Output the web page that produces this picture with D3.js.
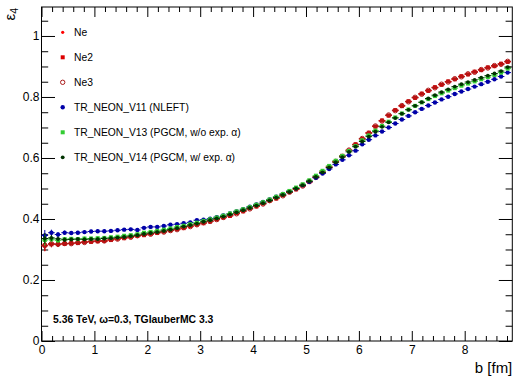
<!DOCTYPE html>
<html>
<head>
<meta charset="utf-8">
<script src="https://d3js.org/d3.v7.min.js"></script>
<style>
  body { margin: 0; background: #fff; }
  svg { display: block; font-family: "Liberation Sans", Arial, sans-serif; }
</style>
</head>
<body>
<div id="chart"></div>
<script>
// profile bins in b [fm]: 0.125 wide, starting at 0
const binLow   = 0;
const binWidth = 0.125;
const nBins    = 71;

// eps_4 per bin
const ne = [
  0.312, 0.318, 0.316, 0.319, 0.320, 0.322, 0.324, 0.326, 0.328, 0.327,
  0.332, 0.335, 0.338, 0.341, 0.344, 0.348, 0.351, 0.355, 0.358, 0.362,
  0.366, 0.371, 0.376, 0.381, 0.387, 0.393, 0.398, 0.404, 0.411, 0.418,
  0.426, 0.434, 0.442, 0.450, 0.459, 0.468, 0.477, 0.487, 0.498, 0.509,
  0.522, 0.537, 0.553, 0.570, 0.588, 0.606, 0.625, 0.644, 0.663, 0.682,
  0.704, 0.722, 0.740, 0.756, 0.771, 0.785, 0.798, 0.810, 0.821, 0.831,
  0.841, 0.850, 0.859, 0.867, 0.875, 0.882, 0.889, 0.896, 0.902, 0.908,
  0.916
];
const ne2 = [
  0.314, 0.317, 0.318, 0.318, 0.321, 0.321, 0.325, 0.325, 0.327, 0.329,
  0.331, 0.336, 0.337, 0.342, 0.345, 0.347, 0.352, 0.354, 0.359, 0.363,
  0.367, 0.370, 0.377, 0.382, 0.386, 0.392, 0.399, 0.405, 0.410, 0.419,
  0.425, 0.435, 0.441, 0.451, 0.460, 0.467, 0.478, 0.488, 0.497, 0.510,
  0.521, 0.538, 0.552, 0.571, 0.587, 0.607, 0.624, 0.645, 0.662, 0.683,
  0.703, 0.723, 0.739, 0.757, 0.770, 0.786, 0.797, 0.811, 0.820, 0.832,
  0.840, 0.851, 0.858, 0.868, 0.874, 0.883, 0.888, 0.897, 0.901, 0.909,
  0.915
];
const ne3 = [
  0.313, 0.319, 0.317, 0.320, 0.319, 0.323, 0.323, 0.327, 0.328, 0.328,
  0.333, 0.334, 0.339, 0.340, 0.345, 0.349, 0.350, 0.356, 0.357, 0.362,
  0.365, 0.372, 0.375, 0.381, 0.388, 0.392, 0.398, 0.405, 0.412, 0.417,
  0.427, 0.433, 0.443, 0.449, 0.460, 0.469, 0.476, 0.488, 0.499, 0.508,
  0.523, 0.536, 0.554, 0.569, 0.589, 0.605, 0.626, 0.643, 0.664, 0.681,
  0.705, 0.721, 0.741, 0.755, 0.772, 0.784, 0.799, 0.809, 0.822, 0.830,
  0.842, 0.849, 0.860, 0.866, 0.876, 0.881, 0.890, 0.895, 0.903, 0.907,
  0.917
];
const v11 = [
  0.346, 0.355, 0.349, 0.355, 0.354, 0.355, 0.357, 0.359, 0.360, 0.360,
  0.361, 0.363, 0.365, 0.366, 0.364, 0.371, 0.374, 0.374, 0.377, 0.381,
  0.383, 0.386, 0.389, 0.396, 0.398, 0.401, 0.406, 0.412, 0.418, 0.425,
  0.432, 0.440, 0.448, 0.456, 0.464, 0.473, 0.482, 0.491, 0.501, 0.511,
  0.522, 0.535, 0.549, 0.564, 0.579, 0.594, 0.609, 0.624, 0.645, 0.660,
  0.674, 0.687, 0.700, 0.713, 0.726, 0.738, 0.750, 0.761, 0.772, 0.782,
  0.792, 0.801, 0.810, 0.818, 0.826, 0.834, 0.842, 0.850, 0.858, 0.867,
  0.880
];
const v13 = [
  0.331, 0.334, 0.330, 0.334, 0.335, 0.334, 0.336, 0.336, 0.337, 0.338,
  0.340, 0.342, 0.345, 0.347, 0.350, 0.355, 0.358, 0.361, 0.365, 0.369,
  0.374, 0.378, 0.383, 0.388, 0.394, 0.399, 0.405, 0.411, 0.418, 0.425,
  0.432, 0.439, 0.447, 0.455, 0.464, 0.473, 0.482, 0.492, 0.503, 0.514,
  0.527, 0.542, 0.558, 0.574, 0.591, 0.607, 0.623, 0.639, 0.658, 0.674,
  0.690, 0.705, 0.719, 0.733, 0.746, 0.759, 0.771, 0.782, 0.793, 0.803,
  0.812, 0.821, 0.829, 0.837, 0.844, 0.851, 0.858, 0.865, 0.872, 0.880,
  0.893
];
const v14 = [
  0.336, 0.338, 0.335, 0.332, 0.333, 0.334, 0.333, 0.334, 0.334, 0.336,
  0.337, 0.339, 0.341, 0.344, 0.347, 0.351, 0.354, 0.357, 0.361, 0.365,
  0.370, 0.375, 0.380, 0.385, 0.391, 0.396, 0.402, 0.408, 0.415, 0.422,
  0.429, 0.436, 0.444, 0.452, 0.461, 0.470, 0.479, 0.489, 0.500, 0.511,
  0.524, 0.538, 0.553, 0.569, 0.586, 0.603, 0.620, 0.637, 0.654, 0.670,
  0.686, 0.702, 0.717, 0.731, 0.745, 0.758, 0.771, 0.783, 0.795, 0.806,
  0.816, 0.825, 0.834, 0.842, 0.849, 0.856, 0.863, 0.870, 0.877, 0.885,
  0.898
];
// statistical error per bin (shared, roughly)
const errs = [
  0.018, 0.010, 0.008, 0.007, 0.006, 0.006, 0.006, 0.006, 0.006, 0.006,
  0.006, 0.005, 0.005, 0.005, 0.005, 0.005, 0.005, 0.005, 0.005, 0.005,
  0.005, 0.005, 0.005, 0.005, 0.005, 0.005, 0.004, 0.004, 0.004, 0.004,
  0.004, 0.004, 0.004, 0.004, 0.004, 0.004, 0.004, 0.004, 0.004, 0.004,
  0.004, 0.004, 0.004, 0.004, 0.004, 0.004, 0.004, 0.004, 0.004, 0.004,
  0.004, 0.004, 0.004, 0.004, 0.004, 0.004, 0.004, 0.003, 0.003, 0.003,
  0.003, 0.003, 0.003, 0.003, 0.003, 0.003, 0.003, 0.003, 0.003, 0.003,
  0.003
];

const seriesNames = ["Ne", "Ne2", "Ne3", "TR_NEON_V11 (NLEFT)",
  "TR_NEON_V13 (PGCM, w/o exp. \u03b1)", "TR_NEON_V14 (PGCM, w/ exp. \u03b1)"];
const seriesValues = [ne, ne2, ne3, v11, v13, v14];

const xTicks = [0, 1, 2, 3, 4, 5, 6, 7, 8];
const yTicks = [0, 0.2, 0.4, 0.6, 0.8, 1];
const annotation = "5.36 TeV, \u03c9=0.3, TGlauberMC 3.3";

/////////////
/// Style ///
/////////////

const styles = [
  {color: "#ff0000", shape: "circle", r: 1.6, fill: true},
  {color: "#dd0000", shape: "square", r: 2.0, fill: true},
  {color: "#aa1a1a", shape: "circle", r: 2.2, fill: false},
  {color: "#0000a8", shape: "circle", r: 2.2, fill: true},
  {color: "#33cc33", shape: "square", r: 2.0, fill: true},
  {color: "#003300", shape: "circle", r: 1.9, fill: true}
];

const width  = 523;
const height = 379;
const frame  = {left: 41.5, right: 512.3, top: 7, bottom: 341};

const svg = d3.select("#chart").append("svg")
  .attr("width", width)
  .attr("height", height);

const x = d3.scaleLinear().domain([0, 8.9]).range([frame.left, frame.right]);
const y = d3.scaleLinear().domain([0, 1.095]).range([frame.bottom, frame.top]);

////////////
/// Axes ///
////////////

const fmt = d3.format("~g");
const xMinor = d3.range(0, 8.9, 0.2).filter(v => Math.abs(v - Math.round(v)) > 1e-6);
const yMinor = d3.range(0, 1.095, 0.05).filter(v => Math.abs(v * 5 - Math.round(v * 5)) > 1e-6);

function styleAxis(g) {
  g.select(".domain").remove();
  g.selectAll("line").attr("stroke", "#000").attr("stroke-width", 1);
  g.selectAll("text").attr("fill", "#000").attr("font-size", 12)
    .attr("font-family", "Liberation Sans, Arial, sans-serif");
}

svg.append("g").attr("transform", `translate(0,${frame.bottom})`)
  .call(d3.axisBottom(x).tickValues(xTicks).tickSize(-10).tickPadding(4.5).tickFormat(fmt))
  .call(styleAxis);
svg.append("g").attr("transform", `translate(0,${frame.bottom})`)
  .call(d3.axisBottom(x).tickValues(xMinor).tickSize(-5).tickFormat(""))
  .call(styleAxis);
svg.append("g").attr("transform", `translate(0,${frame.top})`)
  .call(d3.axisTop(x).tickValues(xTicks).tickSize(-10).tickFormat(""))
  .call(styleAxis);
svg.append("g").attr("transform", `translate(0,${frame.top})`)
  .call(d3.axisTop(x).tickValues(xMinor).tickSize(-5).tickFormat(""))
  .call(styleAxis);

svg.append("g").attr("transform", `translate(${frame.left},0)`)
  .call(d3.axisLeft(y).tickValues(yTicks).tickSize(-13.5).tickPadding(2).tickFormat(fmt))
  .call(styleAxis);
svg.append("g").attr("transform", `translate(${frame.left},0)`)
  .call(d3.axisLeft(y).tickValues(yMinor).tickSize(-6.7).tickFormat(""))
  .call(styleAxis);
svg.append("g").attr("transform", `translate(${frame.right},0)`)
  .call(d3.axisRight(y).tickValues(yTicks).tickSize(-13.5).tickFormat(""))
  .call(styleAxis);
svg.append("g").attr("transform", `translate(${frame.right},0)`)
  .call(d3.axisRight(y).tickValues(yMinor).tickSize(-6.7).tickFormat(""))
  .call(styleAxis);

svg.append("rect")
  .attr("x", frame.left).attr("y", frame.top)
  .attr("width", frame.right - frame.left).attr("height", frame.bottom - frame.top)
  .attr("fill", "none").attr("stroke", "#000").attr("stroke-width", 1);

//////////////
/// Titles ///
//////////////

svg.append("text")
  .attr("x", frame.right).attr("y", 373)
  .attr("text-anchor", "end")
  .attr("font-size", 15)
  .text("b [fm]");

const yTitle = svg.append("text")
  .attr("transform", `translate(15,${frame.top + 1}) rotate(-90)`)
  .attr("text-anchor", "end")
  .attr("font-size", 15);
yTitle.append("tspan").text("\u03b5");
yTitle.append("tspan").attr("font-size", 10.5).attr("dy", 3).text("4");

svg.append("text")
  .attr("x", 53).attr("y", 322.5)
  .attr("font-size", 10.4)
  .attr("font-weight", "bold")
  .text(annotation);

//////////////
/// Points ///
//////////////

const bins = d3.range(nBins).map(i => binLow + (i + 0.5) * binWidth);

function drawMarker(g, st, cx, cy) {
  if (st.shape === "square") {
    g.append("rect")
      .attr("x", cx - st.r).attr("y", cy - st.r)
      .attr("width", 2 * st.r).attr("height", 2 * st.r)
      .attr("fill", st.color);
  } else {
    g.append("circle")
      .attr("cx", cx).attr("cy", cy).attr("r", st.r)
      .attr("fill", st.fill ? st.color : "none")
      .attr("stroke", st.fill ? "none" : st.color)
      .attr("stroke-width", 1);
  }
}

const plot = svg.append("g");

seriesValues.forEach((vals, k) => {
  const st = styles[k];
  const g = plot.append("g");
  vals.forEach((v, i) => {
    const b = bins[i];
    g.append("line")
      .attr("x1", x(b - binWidth / 2)).attr("x2", x(b + binWidth / 2))
      .attr("y1", y(v)).attr("y2", y(v))
      .attr("stroke", st.color).attr("stroke-width", 1);
    g.append("line")
      .attr("x1", x(b)).attr("x2", x(b))
      .attr("y1", y(v - errs[i])).attr("y2", y(v + errs[i]))
      .attr("stroke", st.color).attr("stroke-width", 1);
    drawMarker(g, st, x(b), y(v));
  });
});

//////////////
/// Legend ///
//////////////

const legend = svg.append("g");
seriesNames.forEach((name, k) => {
  const cy = 32.3 + k * 25;
  drawMarker(legend, styles[k], 62.7, cy);
  legend.append("text")
    .attr("x", 74).attr("y", cy + 4)
    .attr("font-size", 10.3)
    .text(name);
});
</script>
</body>
</html>
